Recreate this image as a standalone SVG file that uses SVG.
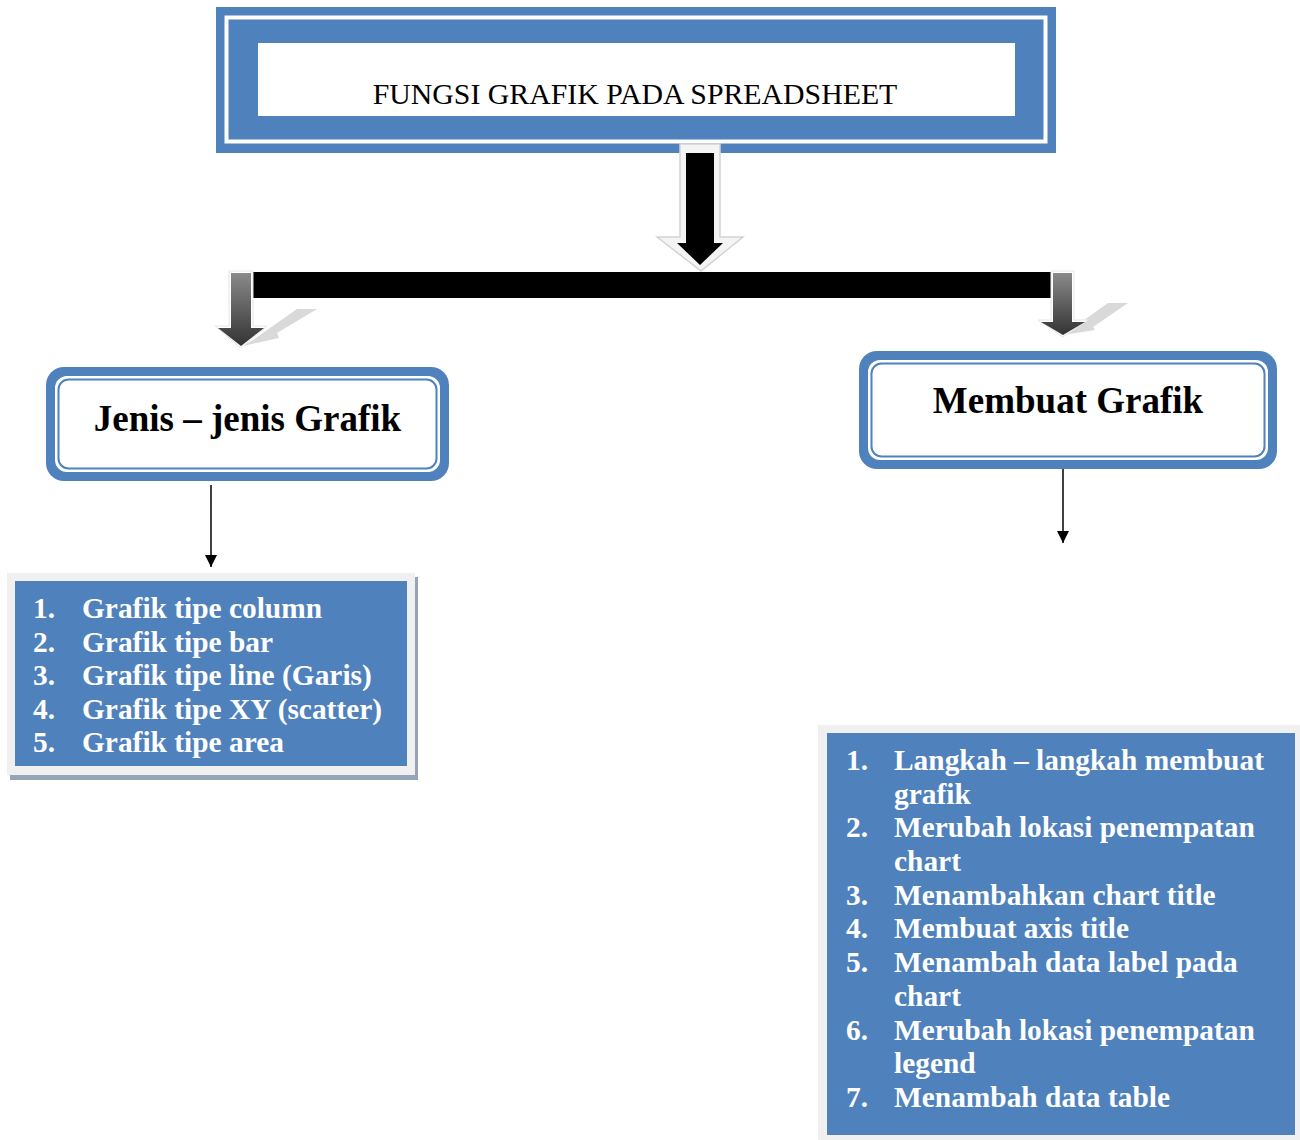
<svg xmlns="http://www.w3.org/2000/svg" width="1300" height="1140" viewBox="0 0 1300 1140">
<style>
.t{font-family:"Liberation Serif","Times New Roman",serif;}
.hd{font-size:37px;font-weight:bold;fill:#000;text-anchor:middle;}
.li{font-size:29.4px;font-weight:bold;fill:#fff;}
.blue{fill:#4F81BD;}
</style>
<defs>
<linearGradient id="gr" x1="0" y1="0" x2="0" y2="1">
<stop offset="0" stop-color="#8a8a8a"/>
<stop offset="1" stop-color="#333"/>
</linearGradient>
<marker id="ah" viewBox="0 0 12 12" refX="12" refY="6" markerWidth="13" markerHeight="12" markerUnits="userSpaceOnUse" orient="auto">
<path d="M0,0 L12,6 L0,12 z" fill="#000"/>
</marker>
</defs>
<rect width="1300" height="1140" fill="#fff"/>

<g id="title">
<rect x="216" y="7" width="840" height="146" class="blue"/>
<rect x="226.5" y="17.5" width="819" height="124" fill="none" stroke="#fff" stroke-width="4"/>
<rect x="258" y="43" width="757" height="73" fill="#fff"/>
<text class="t" x="635" y="104" font-size="29.8" text-anchor="middle" fill="#000">FUNGSI GRAFIK PADA SPREADSHEET</text>
</g>

<g id="connectors">
<polygon points="680,144 720,144 720,237 743,237 701,271 657,237 680,237" fill="#F4F4F4" stroke="#D4D4D4" stroke-width="1.5"/>
<polygon points="686,153 714,153 714,243 723,243 700,265 677,243 686,243" fill="#000"/>
<rect x="253" y="272" width="799" height="26" fill="#000"/>
<polygon points="243,346 253,340 297,309 317,309 277,333 279,338" fill="#D9D9D9"/>
<polygon points="229,271 253,271 253,326 267,326 241,348 215,326 229,326" fill="#fff" stroke="#e6e6e6" stroke-width="1"/>
<polygon points="231,273 251,273 251,328 264,328 241,346 218,328 231,328" fill="url(#gr)"/>
<polygon points="1063,335 1077,325 1108,303 1128,303 1093,327 1095,330" fill="#D9D9D9"/>
<polygon points="1051,271 1074,271 1074,320 1088,320 1063,337 1038,320 1051,320" fill="#fff" stroke="#e6e6e6" stroke-width="1"/>
<polygon points="1053,273 1072,273 1072,322 1085,322 1063,335 1041,322 1053,322" fill="url(#gr)"/>
<line x1="211" y1="485" x2="211" y2="567" stroke="#000" stroke-width="1.5" marker-end="url(#ah)"/>
<line x1="1063" y1="468" x2="1063" y2="543" stroke="#000" stroke-width="1.5" marker-end="url(#ah)"/>
</g>

<g id="jenis">
<rect x="46" y="367" width="403" height="114" rx="18" class="blue"/>
<rect x="55" y="376" width="385" height="96" rx="12" fill="#fff"/>
<rect x="58.5" y="379.5" width="378" height="89" rx="10" fill="none" stroke="#4F81BD" stroke-width="2"/>
<text class="t hd" x="247.5" y="431">Jenis – jenis Grafik</text>
</g>

<g id="membuat">
<rect x="859" y="351" width="418" height="118" rx="18" class="blue"/>
<rect x="868" y="360" width="400" height="100" rx="12" fill="#fff"/>
<rect x="871.5" y="363.5" width="393" height="93" rx="10" fill="none" stroke="#4F81BD" stroke-width="2"/>
<text class="t hd" x="1068" y="413">Membuat Grafik</text>
</g>

<g id="list-jenis">
<rect x="10" y="577" width="408" height="203" fill="#97A4B8"/>
<rect x="7" y="573" width="408" height="202" fill="#F0F0F0"/>
<rect x="15" y="581" width="392" height="185" class="blue"/>
<g class="t li">
<text x="33" y="618">1.</text><text x="82" y="618">Grafik tipe column</text>
<text x="33" y="652">2.</text><text x="82" y="652">Grafik tipe bar</text>
<text x="33" y="685">3.</text><text x="82" y="685">Grafik tipe line (Garis)</text>
<text x="33" y="719">4.</text><text x="82" y="719">Grafik tipe XY (scatter)</text>
<text x="33" y="752">5.</text><text x="82" y="752">Grafik tipe area</text>
</g>
</g>

<g id="list-membuat">
<rect x="818" y="725" width="482" height="415" fill="#F0F0F0"/>
<rect x="827" y="733" width="468" height="402" class="blue"/>
<g class="t li">
<text x="846" y="770">1.</text><text x="894" y="770">Langkah – langkah membuat</text>
<text x="894" y="804">grafik</text>
<text x="846" y="837">2.</text><text x="894" y="837">Merubah lokasi penempatan</text>
<text x="894" y="871">chart</text>
<text x="846" y="905">3.</text><text x="894" y="905">Menambahkan chart title</text>
<text x="846" y="938">4.</text><text x="894" y="938">Membuat axis title</text>
<text x="846" y="972">5.</text><text x="894" y="972">Menambah data label pada</text>
<text x="894" y="1006">chart</text>
<text x="846" y="1040">6.</text><text x="894" y="1040">Merubah lokasi penempatan</text>
<text x="894" y="1073">legend</text>
<text x="846" y="1107">7.</text><text x="894" y="1107">Menambah data table</text>
</g>
</g>
</svg>
